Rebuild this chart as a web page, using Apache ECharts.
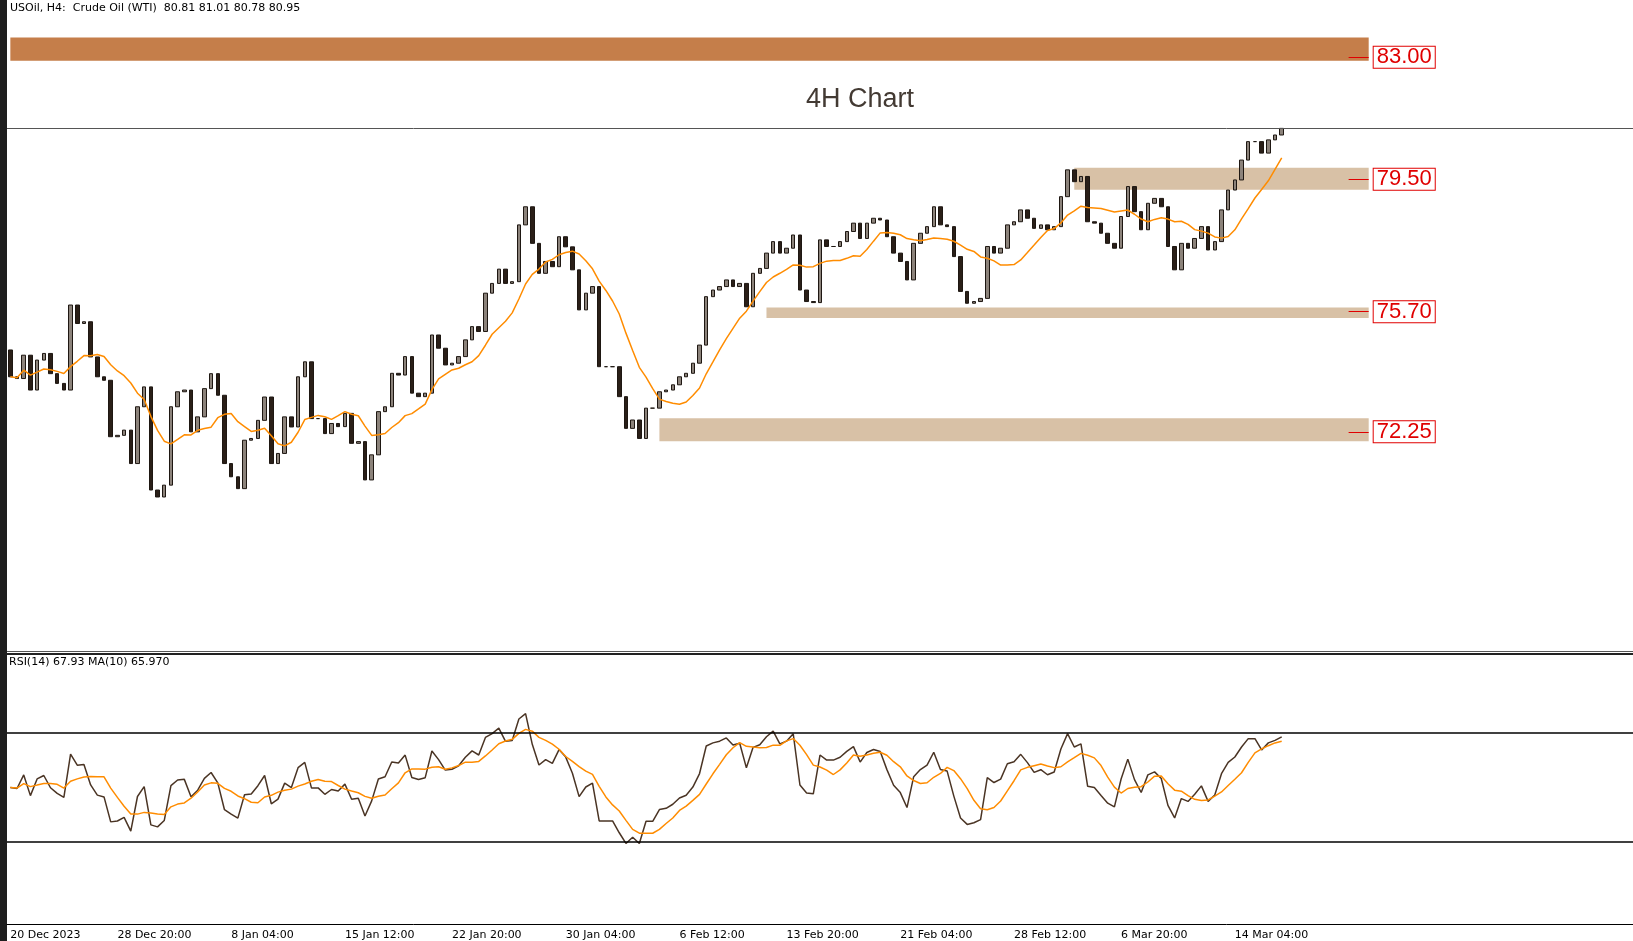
<!DOCTYPE html>
<html><head><meta charset="utf-8">
<script src="https://cdn.jsdelivr.net/npm/echarts@6/dist/echarts.min.js"></script>
<style>html,body{margin:0;padding:0;background:#fff}#c{width:1633px;height:941px}</style>
</head><body><div id="c"></div>
<script>
const closesA=[73.83,73.78,74.45,73.45,74.31,74.50,73.92,73.64,73.45,75.89,75.36,75.41,74.40,73.83,73.73,72.11,72.15,72.30,71.34,72.97,73.54,70.58,70.38,70.72,72.97,73.40,73.45,72.25,72.68,73.49,73.92,73.30,71.34,70.96,70.62,72.01,72.06,72.58,73.25,71.34,71.63,72.68,72.39,73.83,74.26,72.63,72.63,72.20,72.49];
const closesB=[72.40,72.78,71.92,71.97,70.87,71.59,72.83,72.97,73.93,73.88,74.41,73.36,73.26,73.36,75.03,74.65,74.17,74.22,74.41,74.89,75.27,75.13,76.23,76.51,76.92,76.51,76.56,78.19,78.71,77.66,76.80,77.14,76.99,77.85,77.56,76.90,75.75,76.23,76.42,74.12,74.12,74.12,73.26,72.35,72.59,72.06];
const closesC=[72.93,72.93,73.40,73.45,73.60,73.83,73.93,74.22,74.74,76.13,76.32,76.42,76.61,76.42,76.51,75.84,76.80,76.94,77.38,77.71,77.38,77.52,77.90,76.32,75.99,75.96,77.76,77.57,77.57,77.71,78.00,78.24,77.80,78.24,78.38,78.33,77.85,77.38,77.14,76.61,77.66,77.95,78.14,78.71,78.19,78.14,77.28,76.28,75.94,75.99];
const closesD=[76.08,77.57,77.38,77.52,78.19,78.28,78.62,78.38,78.09,78.19,78.05,78.14,79.00,79.77,79.43,79.58,78.28,78.24,77.95,77.66,77.52,78.43,79.29,78.57,78.05,78.81,78.95,78.71,77.57,76.90,77.66,77.52,77.80,78.14,77.47,77.71,78.62,79.19,79.48,80.05,80.58,80.58,80.25,80.63,80.77,80.96];
const firstOpen=74.60;
const tickIdx=[0,16,33,50,66,83,100,116,133,150,166,183];
const tickLabels=['20 Dec 2023','28 Dec 20:00','8 Jan 04:00','15 Jan 12:00','22 Jan 20:00','30 Jan 04:00','6 Feb 12:00','13 Feb 20:00','21 Feb 04:00','28 Feb 12:00','6 Mar 20:00','14 Mar 04:00'];
const levels=[83.00,79.50,75.70,72.25];
const bands=[{lo:82.90,hi:83.57,from:0,col:'#c57e4a'},{lo:79.20,hi:79.83,from:159,col:'#d8c1a6'},{lo:75.52,hi:75.82,from:113,col:'#d8c1a6'},{lo:71.98,hi:72.64,from:97,col:'#d8c1a6'}];
const lastPrice=80.95;

const closes=closesA.concat(closesB,closesC,closesD);
const NCAT=243;
const cats=[];const lab={};
tickIdx.forEach((i,k)=>lab[i]=tickLabels[k]);
for(let i=0;i<NCAT;i++)cats.push(lab[i]||'');
const candles=closes.map((c,i)=>{const o=i?closes[i-1]:firstOpen;return [o,c,Math.min(o,c),Math.max(o,c)];});
function sma(a,n){return a.map((v,i)=>{const s=a.slice(Math.max(0,i-n+1),i+1);return +(s.reduce((x,y)=>x+y,0)/s.length).toFixed(3);});}
const ma=sma(closes,10);
function rsi(a,n){const out=[];let g=0.3,l=0.3;for(let i=0;i<a.length;i++){if(i===0){out.push(50);continue;}const d=a[i]-a[i-1];g=(g*(n-1)+Math.max(d,0))/n;l=(l*(n-1)+Math.max(-d,0))/n;out.push(+(100-100/(1+g/l)).toFixed(2));}return out;}
const rs=rsi(closes,12);
const rsMa=sma(rs,6);

const ch=echarts.init(document.getElementById('c'));
const F='Tahoma, "DejaVu Sans", sans-serif';
ch.setOption({
animation:false,
grid:[{left:7,right:0,top:2,height:649},{left:7,right:0,top:651,height:273}],
xAxis:[{type:'category',data:cats,gridIndex:0,show:false,boundaryGap:true},
{type:'category',data:cats,gridIndex:1,boundaryGap:true,axisLine:{lineStyle:{color:'#000',width:1}},
 axisTick:{alignWithLabel:true,interval:(i)=>lab[i]!==undefined,length:4,lineStyle:{color:'#000'}},
 axisLabel:{interval:(i)=>lab[i]!==undefined,align:'left',margin:6,fontSize:11,color:'#000',fontFamily:F}}],
yAxis:[{type:'value',gridIndex:0,min:65.96,max:84.587,show:false},
{type:'value',gridIndex:1,min:0,max:100,show:false}],
series:[
{type:'candlestick',xAxisIndex:0,yAxisIndex:0,data:candles,barWidth:4,
 itemStyle:{color:'#8c837b',color0:'#2a1f18',borderColor:'#1e1712',borderColor0:'#1e1712',borderWidth:1},
 markArea:{silent:true,data:bands.map(b=>[{coord:[b.from,b.hi],itemStyle:{color:b.col}},{coord:[203,b.lo]}])},
 markLine:{silent:true,symbol:'none',data:[
  {yAxis:lastPrice,lineStyle:{color:'#555',width:1,type:'solid'},label:{show:false}}
 ].concat(levels.map(v=>[{coord:[200,v],lineStyle:{color:'#e00000',width:1,type:'solid'}},{coord:[203,v],label:{show:true,position:'end',distance:5,formatter:v.toFixed(2),color:'#e00000',fontSize:22,fontFamily:'"Liberation Sans", Arial, sans-serif',backgroundColor:'#fff',borderColor:'#e00000',borderWidth:1,padding:[0,3,-1,3]}}]))}
},
{type:'line',xAxisIndex:0,yAxisIndex:0,data:ma,symbol:'none',lineStyle:{color:'#ff8c00',width:1.5}},
{type:'line',xAxisIndex:1,yAxisIndex:1,data:rs,symbol:'none',lineStyle:{color:'#4a3424',width:1.5},
 markLine:{silent:true,symbol:'none',label:{show:false},lineStyle:{color:'#000',width:1.5,type:'solid'},data:[{yAxis:70},{yAxis:30}]}},
{type:'line',xAxisIndex:1,yAxisIndex:1,data:rsMa,symbol:'none',lineStyle:{color:'#ff8c00',width:1.5}}
],
graphic:[
{type:'rect',shape:{x:0,y:0,width:7,height:941},style:{fill:'#1e1e1e'}},
{type:'rect',shape:{x:7,y:651,width:1626,height:1},style:{fill:'#555'}},
{type:'rect',shape:{x:7,y:653,width:1626,height:2},style:{fill:'#222'}},
{type:'text',left:10,top:3,style:{text:'USOil, H4:  Crude Oil (WTI)  80.81 81.01 80.78 80.95',fontSize:11,fill:'#000',fontFamily:F}},
{type:'text',left:9,top:657,style:{text:'RSI(14) 67.93 MA(10) 65.970',fontSize:11,fill:'#000',fontFamily:F}},
{type:'text',x:860,y:100,style:{text:'4H Chart',fontSize:27,fill:'#433a33',align:'center',verticalAlign:'middle',fontFamily:'"Liberation Sans", Arial, sans-serif'}}
]
});
</script></body></html>
